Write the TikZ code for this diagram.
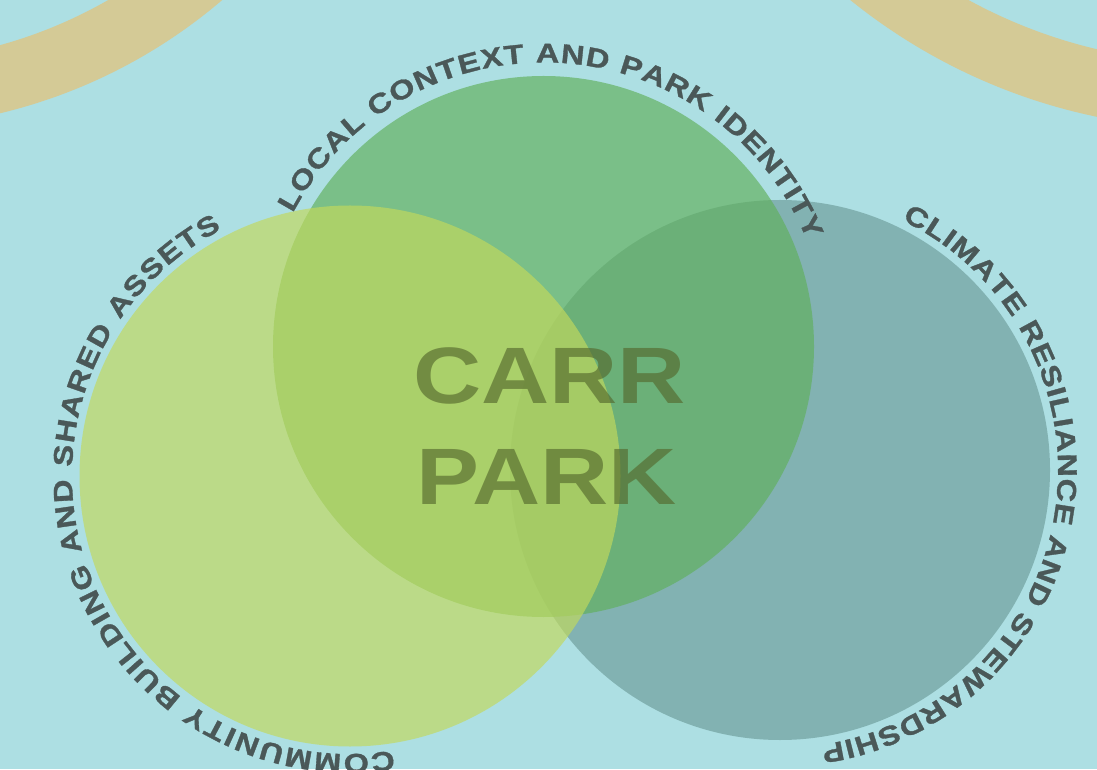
\documentclass[tikz,border=0pt]{standalone}
\usepackage{fontspec}
\setmainfont{Liberation Sans}
\newfontfamily\widefont{Liberation Sans}[FakeStretch=1.18]
\newfontfamily\arcface{Liberation Sans}[FakeStretch=1.2, FakeBold=1.2]
\usetikzlibrary{decorations.text}
\definecolor{sky}{RGB}{173,223,227}
\definecolor{sand}{RGB}{212,202,150}
\definecolor{leaf}{RGB}{97,176,92}
\definecolor{lime}{RGB}{194,217,92}
\definecolor{sea}{RGB}{130,178,178}
\definecolor{slate}{RGB}{74,88,88}
\definecolor{moss}{RGB}{85,105,45}
\newcommand\arcfont{\arcface\bfseries\fontsize{27}{27}\selectfont\color{slate}}
\tikzset{
    ring/.style={draw=sand, line width=66pt},
    disc/.style={fill opacity=0.67},
    arclabel/.style={decorate, decoration={text along path, text align={fit to path}, text={|\arcfont|#1}}},
    title/.style={anchor=base west, inner sep=0pt, text=moss, text opacity=0.65, font=\widefont\bfseries\fontsize{80}{80}\selectfont}
}

\begin{document}
\begin{tikzpicture}[x=1pt, y=1pt]
    \useasboundingbox (0,0) rectangle (1097,769);
    \clip (0,0) rectangle (1097,769);
    \fill[sky] (0,0) rectangle (1097,769);
    \draw[ring] (-125,1176) circle[radius=502];
    \draw[ring] (1216,1223) circle[radius=550];
    \coordinate (local) at (543.5,422.5);
    \coordinate (community) at (350,293);
    \coordinate (climate) at (780,299);
    \fill[sea] (climate) circle[radius=270];
    \fill[leaf, disc] (local) circle[radius=270.5];
    \fill[lime, disc] (community) circle[radius=270.5];
    \path[arclabel=LOCAL CONTEXT AND PARK IDENTITY]
        (local) ++(152:284) arc[start angle=152, end angle=22, radius=284];
    \path[arclabel=COMMUNITY BUILDING AND SHARED ASSETS]
        (community) ++(-81:278) arc[start angle=-81, end angle=-242.5, radius=278];
    \path[arclabel=CLIMATE RESILIANCE AND STEWARDSHIP]
        (climate) ++(64:278) arc[start angle=64, end angle=-81.5, radius=278];
    \node[title] (carr) at (413,365) {CARR};
    \node[title] (park) at (416,265) {PARK};
\end{tikzpicture}
\end{document}
